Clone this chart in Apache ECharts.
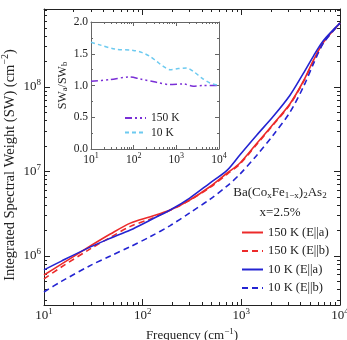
<!DOCTYPE html>
<html><head><meta charset="utf-8">
<script src="https://cdn.jsdelivr.net/npm/echarts@6/dist/echarts.min.js"></script>
<style>html,body{margin:0;padding:0;background:#fff}#c{width:347px;height:340px}</style>
</head><body><div id="c"></div>
<script>
// ---- data ----
const freq = [10, 15, 30, 47, 75, 120, 190, 300, 480, 720, 970, 1430, 2100, 3100, 4250, 5400, 6800, 10000];
const sw150a = [5.96e5, 8.0e5, 1.33e6, 1.82e6, 2.45e6, 2.92e6, 3.5e6, 4.6e6, 6.6e6, 9.6e6, 1.26e7, 2.14e7, 3.63e7, 6.3e7, 1.17e8, 2.09e8, 3.39e8, 5.7e8];
const sw150b = [5.37e5, 7.4e5, 1.23e6, 1.66e6, 2.24e6, 2.75e6, 3.47e6, 4.57e6, 6.46e6, 9.33e6, 1.23e7, 2.09e7, 3.55e7, 6.17e7, 1.15e8, 2.04e8, 3.39e8, 5.7e8];
const sw10a = [6.85e5, 8.7e5, 1.29e6, 1.62e6, 2.03e6, 2.67e6, 3.5e6, 4.85e6, 7.3e6, 1.04e7, 1.58e7, 2.69e7, 4.47e7, 7.94e7, 1.45e8, 2.34e8, 3.55e8, 5.7e8];
const sw10b = [3.75e5, 5.0e5, 7.8e5, 1.0e6, 1.29e6, 1.7e6, 2.29e6, 3.24e6, 4.68e6, 6.76e6, 9.33e6, 1.55e7, 2.69e7, 5.0e7, 1.0e8, 1.9e8, 3.31e8, 5.7e8];
const seriesNames = ['150 K (E||a)', '150 K (E||b)', '10 K (E||a)', '10 K (E||b)'];
const xTickValues = [10, 100, 1000, 10000];
const yTickValues = [1e6, 1e7, 1e8];
const yRange = [2.63e5, 8.38e8];
const xRange = [10, 10000];

const ratioFreq10 = [10, 16, 36, 98, 154, 241, 346, 494, 708, 1107, 1740, 2488, 3910, 6120, 10000];
const ratio10 = [1.68, 1.64, 1.575, 1.553, 1.522, 1.459, 1.38, 1.302, 1.25, 1.266, 1.277, 1.223, 1.12, 1.04, 1.0];
const ratioFreq150 = [10, 28, 82, 140, 345, 708, 1445, 2488, 4266, 10000];
const ratio150 = [1.066, 1.093, 1.135, 1.104, 1.05, 1.014, 1.025, 0.99, 1.0, 1.0];
const insetNames = ['150 K', '10 K'];
const insetYTicks = [0, 0.5, 1.0, 1.5, 2.0];
const insetYMinor = [0.25, 0.75, 1.25, 1.75];

// ---- helpers ----
const FONT = 'Liberation Serif';
const L = Math.log10;
const pts = (fs, vs, tr) => fs.map((f, i) => [L(f), tr ? L(vs[i]) : vs[i]]);
function minorLogs(lo, hi) {
  const out = [];
  for (let n = Math.floor(lo); n <= Math.ceil(hi); n++)
    for (let k = 2; k <= 9; k++) { const v = n + L(k); if (v > lo && v < hi) out.push(v); }
  return out;
}
const powFmt = v => '{b|10}{s|' + Math.round(v) + '}';
const mainRich = { b: { fontFamily: FONT, fontSize: 13, color: '#222' }, s: { fontFamily: FONT, fontSize: 9, color: '#222', padding: [0, 0, 8, 0] } };
const insetRich = { b: { fontFamily: FONT, fontSize: 11.5, color: '#222' }, s: { fontFamily: FONT, fontSize: 8, color: '#222', padding: [0, 0, 7, 0] } };

function tickAxes(gridIndex, dim, min, max, major, minor, majLen, minLen, color, labelOpt, nameOpt) {
  const posA = dim === 'x' ? 'bottom' : 'left', posB = dim === 'x' ? 'top' : 'right';
  const base = { type: 'value', gridIndex, min, max, splitLine: { show: false }, axisPointer: { show: false } };
  const line = show => ({ show, onZero: false, lineStyle: { color, width: 1 } });
  const tick = (vals, len) => ({ show: true, inside: true, length: len, customValues: vals, lineStyle: { color, width: 1 } });
  return [
    Object.assign({}, base, { position: posA, axisLine: line(true), axisTick: tick(major, majLen), axisLabel: labelOpt }, nameOpt || {}),
    Object.assign({}, base, { position: posB, axisLine: line(true), axisTick: tick(major, majLen), axisLabel: { show: false } }),
    Object.assign({}, base, { position: posA, axisLine: line(false), axisTick: tick(minor, minLen), axisLabel: { show: false } }),
    Object.assign({}, base, { position: posB, axisLine: line(false), axisTick: tick(minor, minLen), axisLabel: { show: false } })
  ];
}

const mx = [L(xRange[0]), L(xRange[1])];
const my = [L(yRange[0]), L(yRange[1])];
const RED = '#ec2a2a', BLUE = '#2424d2', PURPLE = '#7a2fd6', SKY = '#6ccaf0';

const xAxes = [].concat(
  tickAxes(0, 'x', mx[0], mx[1], xTickValues.map(L), minorLogs(mx[0], mx[1]), 6, 3, '#222',
    { show: true, customValues: xTickValues.map(L), formatter: powFmt, rich: mainRich, margin: 2 },
    { name: 'Frequency (cm{s|−1})', nameLocation: 'middle', nameGap: 19,
      nameTextStyle: { fontFamily: FONT, fontSize: 13, color: '#222', rich: { s: { fontFamily: FONT, fontSize: 9, color: '#222', padding: [0, 0, 8, 0] } } } }),
  tickAxes(1, 'x', mx[0], mx[1], xTickValues.map(L), minorLogs(mx[0], mx[1]), 4, 2, '#666',
    { show: true, customValues: xTickValues.map(L), formatter: powFmt, rich: insetRich, margin: 3 })
);
const yAxes = [].concat(
  tickAxes(0, 'y', my[0], my[1], yTickValues.map(L), minorLogs(my[0], my[1]), 6, 3, '#222',
    { show: true, customValues: yTickValues.map(L), formatter: powFmt, rich: mainRich, margin: 3 }),
  tickAxes(1, 'y', 0, 2, insetYTicks, insetYMinor, 4, 2, '#666',
    { show: true, customValues: insetYTicks, formatter: v => v.toFixed(1), fontFamily: FONT, fontSize: 11.5, color: '#222', margin: 3 },
    { name: 'SW{s|a}/SW{s|b}', nameLocation: 'middle', nameGap: 20, nameRotate: 90,
      nameTextStyle: { fontFamily: FONT, fontSize: 12, color: '#222', rich: { s: { fontFamily: FONT, fontSize: 8.5, color: '#222', padding: [5, 0, 0, 0] } } } })
);

const mainLine = (name, data, color, dashed) => ({
  name, type: 'line', xAxisIndex: 0, yAxisIndex: 0, data, symbol: 'none', smooth: 0.3,
  lineStyle: { color, width: 1.6, type: dashed ? [6, 4] : 'solid' }, itemStyle: { color }
});

const option = {
  animation: false,
  backgroundColor: '#fff',
  grid: [
    { left: 44, top: 9, width: 296, height: 296, outerBoundsMode: 'none', containLabel: false },
    { left: 91, top: 22, width: 128, height: 127, outerBoundsMode: 'none', containLabel: false, show: true, backgroundColor: '#fff', borderWidth: 0 }
  ],
  xAxis: xAxes,
  yAxis: yAxes,
  legend: [
    { data: seriesNames, orient: 'vertical', left: 236, top: 221, itemWidth: 21, itemHeight: 12, itemGap: 5.5,
      itemStyle: { opacity: 0 }, textStyle: { fontFamily: FONT, fontSize: 12.5, color: '#222' }, selectedMode: false },
    { data: insetNames, orient: 'vertical', left: 119, top: 107, itemWidth: 21, itemHeight: 10, itemGap: 2.5,
      itemStyle: { opacity: 0 }, textStyle: { fontFamily: FONT, fontSize: 11.5, color: '#222' }, selectedMode: false }
  ],
  graphic: [
    { type: 'text', x: 10, y: 165, rotation: Math.PI / 2,
      style: { text: 'Integrated Spectral Weight (SW) (cm{s|−2})', fontFamily: FONT, fontSize: 14.5, fill: '#222',
        align: 'center', verticalAlign: 'middle', textAlign: 'center', textVerticalAlign: 'middle',
        rich: { s: { fontFamily: FONT, fontSize: 10, fill: '#222', padding: [0, 0, 9, 0] } } } },
    { type: 'text', x: 280, y: 193, style: { text: 'Ba(Co{s|x}Fe{s|1−x}){s|2}As{s|2}', fontFamily: FONT, fontSize: 13, fill: '#222',
        align: 'center', verticalAlign: 'middle', textAlign: 'center', textVerticalAlign: 'middle',
        rich: { s: { fontFamily: FONT, fontSize: 9, fill: '#222', padding: [5, 0, 0, 0] } } } },
    { type: 'text', x: 280, y: 213, style: { text: 'x=2.5%', fontFamily: FONT, fontSize: 13, fill: '#222',
        align: 'center', verticalAlign: 'middle', textAlign: 'center', textVerticalAlign: 'middle' } }
  ],
  series: [
    mainLine(seriesNames[0], pts(freq, sw150a, true), RED, false),
    mainLine(seriesNames[1], pts(freq, sw150b, true), RED, true),
    mainLine(seriesNames[2], pts(freq, sw10a, true), BLUE, false),
    mainLine(seriesNames[3], pts(freq, sw10b, true), BLUE, true),
    { name: insetNames[0], type: 'line', xAxisIndex: 4, yAxisIndex: 4, data: pts(ratioFreq150, ratio150, false), symbol: 'none',
      smooth: 0.3, lineStyle: { color: PURPLE, width: 1.5, type: [7, 3, 2, 3, 2, 3] }, itemStyle: { color: PURPLE } },
    { name: insetNames[1], type: 'line', xAxisIndex: 4, yAxisIndex: 4, data: pts(ratioFreq10, ratio10, false), symbol: 'none',
      smooth: 0.3, lineStyle: { color: SKY, width: 1.5, type: [4, 3] }, itemStyle: { color: SKY } }
  ]
};
const chart = echarts.init(document.getElementById('c'), null, { renderer: 'canvas' });
chart.setOption(option);
</script></body></html>
